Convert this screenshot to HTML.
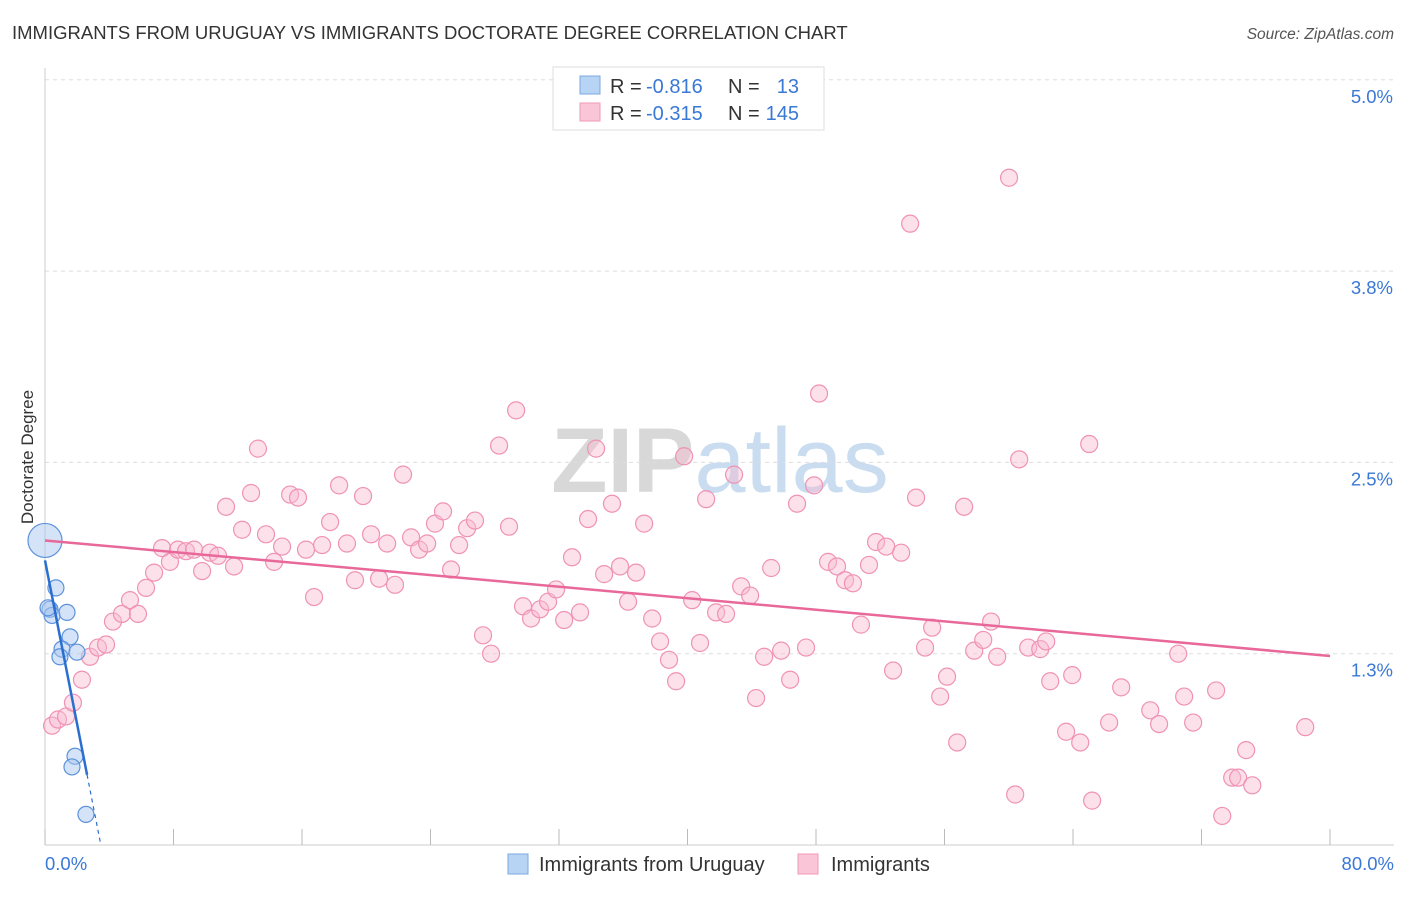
<!DOCTYPE html>
<html><head><meta charset="utf-8"><style>
body{margin:0;background:#fff;font-family:"Liberation Sans",sans-serif;}
svg text{font-family:"Liberation Sans",sans-serif;}
</style></head><body>
<svg id="chart" width="1406" height="892" xmlns="http://www.w3.org/2000/svg">
<text x="12" y="39" font-size="18.5" fill="#333">IMMIGRANTS FROM URUGUAY VS IMMIGRANTS DOCTORATE DEGREE CORRELATION CHART</text>
<text x="1394" y="39" font-size="15.5" fill="#555" text-anchor="end" font-style="italic">Source: ZipAtlas.com</text>
<text transform="translate(33,457) rotate(-90)" font-size="17" fill="#333" text-anchor="middle">Doctorate Degree</text>
<text x="720" y="492" font-size="92" text-anchor="middle" fill="#ddd" font-family="Liberation Serif"><tspan fill="#d8d8d8" font-weight="bold">ZIP</tspan><tspan fill="#c9dcf0" font-family="Liberation Sans">atlas</tspan></text>
<g id="grid"></g><g id="axes"></g><g id="marks"></g>
<g>
<rect x="553" y="67" width="271" height="63" fill="#fff" stroke="#ddd"/>
<rect x="580" y="76" width="20" height="18" fill="#b8d4f4" stroke="#7aa8e0"/>
<rect x="580" y="103" width="20" height="18" fill="#f9c5d7" stroke="#f09ab8"/>
<text x="610" y="93" font-size="20" fill="#333">R =</text>
<text x="646" y="93" font-size="20" fill="#3a78d6">-0.816</text>
<text x="728" y="93" font-size="20" fill="#333">N =</text>
<text x="799" y="93" font-size="20" fill="#3a78d6" text-anchor="end">13</text>
<text x="610" y="120" font-size="20" fill="#333">R =</text>
<text x="646" y="120" font-size="20" fill="#3a78d6">-0.315</text>
<text x="728" y="120" font-size="20" fill="#333">N =</text>
<text x="799" y="120" font-size="20" fill="#3a78d6" text-anchor="end">145</text>
</g>
<g>
<rect x="508" y="854" width="20" height="20" fill="#b8d4f4" stroke="#7aa8e0"/>
<text x="539" y="871" font-size="20" fill="#333">Immigrants from Uruguay</text>
<rect x="798" y="854" width="20" height="20" fill="#f9c5d7" stroke="#f09ab8"/>
<text x="831" y="871" font-size="20" fill="#333">Immigrants</text>
</g>
</svg>
<script>
const xTicks=[0,8,16,24,32,40,48,56,64,72,80];
const yTicks=[1.25,2.5,3.75,5.0];
const yTickLabels=["1.3%","2.5%","3.8%","5.0%"];
const xTickLabels=["0.0%","80.0%"];
const blueX=[0,0.68,0.31,0.44,1.37,1.56,1.06,0.93,1.99,1.87,1.68,2.55,0.19];
const blueY=[1.99,1.68,1.54,1.50,1.52,1.36,1.28,1.23,1.26,0.58,0.51,0.20,1.55];
const pinkX=[0.44,0.81,1.31,1.74,2.30,2.80,3.30,3.80,4.23,4.79,5.29,5.79,6.29,6.79,7.29,7.78,8.28,8.78,9.28,9.78,10.27,10.77,11.27,11.77,12.27,12.83,13.26,13.76,14.26,14.76,15.26,15.75,16.25,16.75,17.25,17.75,18.31,18.80,19.30,19.80,20.30,20.80,21.30,21.79,22.29,22.79,23.29,23.79,24.28,24.78,25.28,25.78,26.28,26.77,27.27,27.77,28.27,28.89,29.33,29.76,30.26,30.82,31.32,31.82,32.32,32.81,33.31,33.81,34.31,34.81,35.30,35.80,36.30,36.80,37.30,37.80,38.29,38.85,39.29,39.79,40.29,40.78,41.16,41.78,42.40,42.90,43.34,43.90,44.27,44.77,45.21,45.83,46.39,46.82,47.38,47.88,48.19,48.75,49.31,49.81,50.30,50.80,51.30,51.74,52.37,52.80,53.30,53.86,54.23,54.79,55.23,55.73,56.16,56.79,57.22,57.85,58.41,58.90,59.28,60.02,60.40,60.65,61.21,61.96,62.33,62.58,63.57,63.95,64.45,65.01,65.19,66.25,67.00,68.81,69.36,70.55,70.92,71.48,72.91,73.29,73.91,74.28,74.78,75.16,78.46];
const pinkY=[0.78,0.82,0.84,0.93,1.08,1.23,1.29,1.31,1.46,1.51,1.60,1.51,1.68,1.78,1.94,1.85,1.93,1.92,1.93,1.79,1.91,1.89,2.21,1.82,2.06,2.30,2.59,2.03,1.85,1.95,2.29,2.27,1.93,1.62,1.96,2.11,2.35,1.97,1.73,2.28,2.03,1.74,1.97,1.70,2.42,2.01,1.93,1.97,2.10,2.18,1.80,1.96,2.07,2.12,1.37,1.25,2.61,2.08,2.84,1.56,1.48,1.54,1.59,1.67,1.47,1.88,1.52,2.13,2.59,1.77,2.23,1.82,1.59,1.78,2.10,1.48,1.33,1.21,1.07,2.54,1.60,1.32,2.26,1.52,1.51,2.42,1.69,1.63,0.96,1.23,1.81,1.27,1.08,2.23,1.29,2.35,2.95,1.85,1.82,1.73,1.71,1.44,1.83,1.98,1.95,1.14,1.91,4.06,2.27,1.29,1.42,0.97,1.10,0.67,2.21,1.27,1.34,1.46,1.23,4.36,0.33,2.52,1.29,1.28,1.33,1.07,0.74,1.11,0.67,2.62,0.29,0.80,1.03,0.88,0.79,1.25,0.97,0.80,1.01,0.19,0.44,0.44,0.62,0.39,0.77];
const pinkTrend=[1.99,1.235];
const blueTrend=[1.86,-0.535];
const NS="http://www.w3.org/2000/svg";
const X0=45,X1=1330,XMAX=80,Y0=845,YPER=153.04;
function sx(v){return X0+(v/XMAX)*(X1-X0);}
function sy(v){return Y0-v*YPER;}
function mk(parent,tag,attrs){const e=document.createElementNS(NS,tag);for(const k in attrs)e.setAttribute(k,attrs[k]);document.getElementById(parent).appendChild(e);return e;}
yTicks.forEach((t,i)=>{
 const l=mk('grid','line',{x1:45,x2:1394,y1:sy(t),y2:sy(t),stroke:'#ddd','stroke-dasharray':'4,4'});
 
 
 const tx=mk('axes','text',{x:1393,y:sy(t)+23,'font-size':18.5,fill:'#3a78d6','text-anchor':'end'});
 tx.textContent=yTickLabels[i];
 
 
});
const ax=mk('axes','line',{x1:45,x2:45,y1:68,y2:845,stroke:'#ccc'});


const bx=mk('axes','line',{x1:45,x2:1394,y1:845,y2:845,stroke:'#ccc'});


xTicks.forEach(t=>{
 const l=mk('axes','line',{x1:sx(t),x2:sx(t),y1:829,y2:845,stroke:'#bbb'});
 
 
});
[[0,'start',45],[80,'end',1394]].forEach((a,i)=>{
 const tx=mk('axes','text',{x:a[2],y:870,'font-size':18.5,fill:'#3a78d6','text-anchor':a[1]});
 tx.textContent=xTickLabels[i];
 
 
});
pinkX.forEach((x,i)=>{
 const c=mk('marks','circle',{cx:sx(x),cy:sy(pinkY[i]),r:8.5,fill:'rgba(248,187,208,0.45)',stroke:'#f092b4','stroke-width':1.2});
 
 
});
blueX.forEach((x,i)=>{
 const c=mk('marks','circle',{cx:sx(x),cy:sy(blueY[i]),r:i===0?17:8,fill:'rgba(170,200,240,0.5)',stroke:'#5d92dc','stroke-width':1.2});
 
 
});
const pl=mk('marks','line',{x1:sx(0),y1:sy(pinkTrend[0]),x2:sx(80),y2:sy(pinkTrend[1]),stroke:'#e8689a','stroke-width':2.5});


const bEnd=2.62, bZero=-blueTrend[0]/blueTrend[1];
const bl=mk('marks','line',{x1:sx(0),y1:sy(blueTrend[0]),x2:sx(bEnd),y2:sy(blueTrend[0]+blueTrend[1]*bEnd),stroke:'#2a6fd0','stroke-width':2.5});


const bd=mk('marks','line',{x1:sx(bEnd),y1:sy(blueTrend[0]+blueTrend[1]*bEnd),x2:sx(bZero),y2:sy(0),stroke:'#2a6fd0','stroke-width':1.2,'stroke-dasharray':'4,4'});


</script>
</body></html>
